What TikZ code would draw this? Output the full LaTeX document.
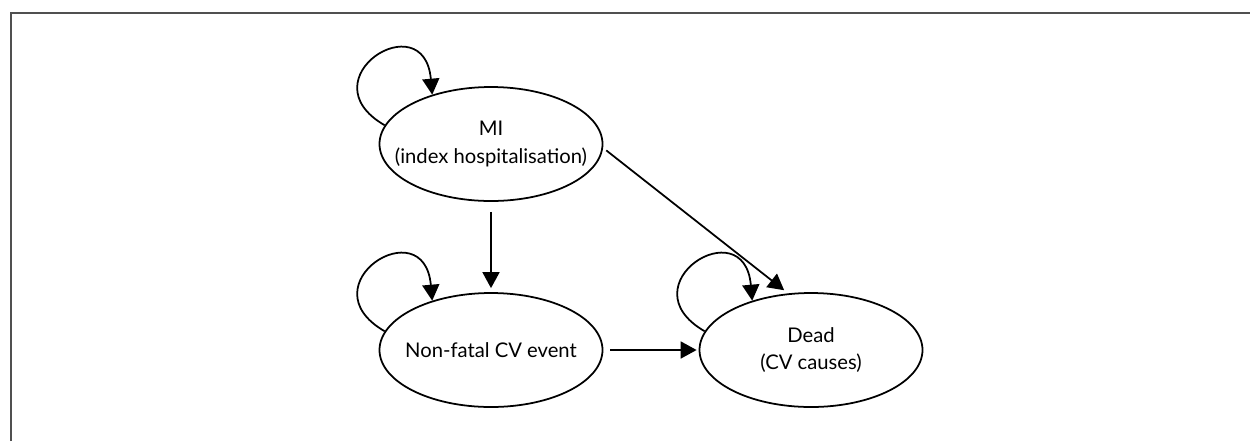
\documentclass[tikz,border=0pt]{standalone}
\usepackage{fontspec}
\setmainfont{Lato}
\usetikzlibrary{shapes.geometric,arrows.meta}
\definecolor{cinza}{RGB}{80,80,80}
\tikzset{
  estado/.style={ellipse,draw,line width=1pt,minimum width=4.46cm,minimum height=2.28cm,inner xsep=-0.5cm,inner ysep=0pt,align=center,font=\fontsize{11.5pt}{15.4pt}\selectfont},
  seta/.style={line width=1pt,-{Triangle[length=0.32cm,width=0.34cm]}},
  moldura/.style={line width=0.04cm,cinza}
}
\begin{document}
\begin{tikzpicture}
  \useasboundingbox (0,0) rectangle (25,-8.82);
  %moldura
  \coordinate (c1) at (0.22,-8.82);
  \coordinate (c2) at (0.22,-0.26);
  \coordinate (c3) at (25,-0.26);
  \draw[moldura] (c1) -- (c2) -- (c3);

  %estados
  \node[estado] (e1) at (9.82,-2.88) {MI\\(index hospitalisation)};
  \node[estado] (e2) at (9.82,-7.0) {Non-fatal CV event};
  \node[estado] (e3) at (16.22,-7.0) {Dead\\(CV causes)};

  %transições
  \draw[seta,shorten <=0.2cm,shorten >=0.08cm] (e1) -- (e2);
  \draw[seta,shorten <=0.08cm,shorten >=0.1cm] (e1.-2) -- (e3.112);
  \draw[seta,shorten <=0.14cm,shorten >=0.04cm] (e2) -- (e3);

  %laços (ficar no mesmo estado)
  \draw[seta] (e1.170) .. controls +(150:1.85) and +(95:1.85) .. (e1.140);
  \draw[seta] (e2.170) .. controls +(150:1.85) and +(95:1.85) .. (e2.140);
  \draw[seta] (e3.170) .. controls +(150:1.85) and +(95:1.85) .. (e3.140);
\end{tikzpicture}
\end{document}
